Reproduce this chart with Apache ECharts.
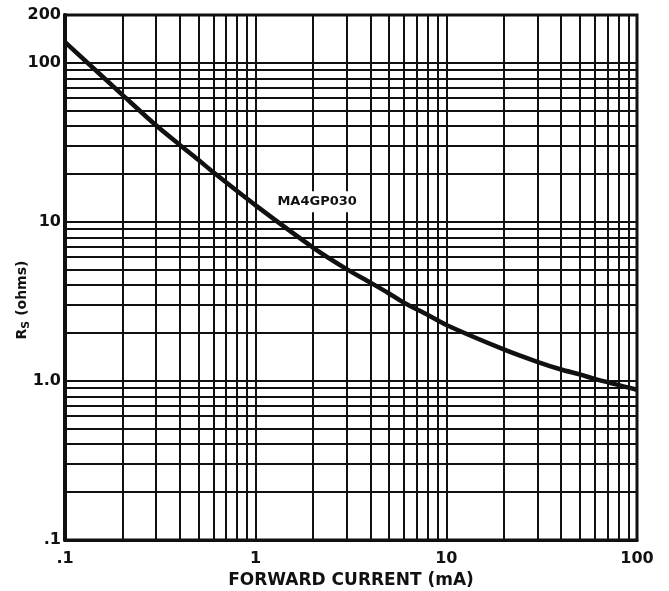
<!DOCTYPE html>
<html>
<head>
<meta charset="utf-8">
<script src="https://cdn.jsdelivr.net/npm/echarts@6/dist/echarts.min.js"></script>
<style>
html,body{margin:0;padding:0;background:#fff;}
#chart{width:669px;height:591px;}
</style>
</head>
<body>
<div id="chart"></div>
<script>
// ---- data ----
var currentMA = [0.1, 0.2, 0.3, 0.4, 0.5, 0.6, 1, 2, 3, 4, 5, 6, 8, 10, 20, 30, 40, 50, 60, 100];
var rsOhms    = [135, 63, 40.5, 30.5, 24.6, 20.5, 12.7, 6.9, 5.05, 4.15, 3.55, 3.1, 2.6, 2.25, 1.58, 1.32, 1.18, 1.1, 1.03, 0.88];
var seriesName = 'MA4GP030';
var xTickLabels = {'0.1': '.1', '1': '1', '10': '10', '100': '100'};
var yTickLabels = {'0.1': '.1', '1': '1.0', '10': '10', '100': '100', '200': '200'};
var xMinorGrid = [0.2,0.3,0.4,0.5,0.6,0.7,0.8,0.9, 2,3,4,5,6,7,8,9, 20,30,40,50,60,70,80,90];
var yMinorGrid = [0.2,0.3,0.4,0.5,0.6,0.7,0.8,0.9, 2,3,4,5,6,7,8,9, 20,30,40,50,60,70,80,90];
var xTitle = 'FORWARD CURRENT (mA)';
var labelPos = [2.1, 13.4];

var FONT = 'DejaVu Sans';
var INK = '#111';

function fmt(map) {
  return function (v) {
    var r = parseFloat(Number(v).toPrecision(6));
    return map.hasOwnProperty(String(r)) ? map[String(r)] : '';
  };
}

var gridLines = [];
xMinorGrid.forEach(function (v) { gridLines.push({ xAxis: v }); });
yMinorGrid.forEach(function (v) { gridLines.push({ yAxis: v }); });

var chart = echarts.init(document.getElementById('chart'), null, { renderer: 'canvas' });
chart.setOption({
  animation: false,
  backgroundColor: '#fff',
  grid: {
    left: 65, right: 32, top: 15, bottom: 51,
    outerBoundsMode: 'none', containLabel: false,
    show: true, borderColor: INK, borderWidth: 3, backgroundColor: 'transparent'
  },
  xAxis: {
    type: 'log', logBase: 10, min: 0.1, max: 100,
    axisLine: { show: true, lineStyle: { color: INK, width: 3 } },
    axisTick: { show: false },
    splitLine: { show: true, lineStyle: { color: INK, width: 2 } },
    axisLabel: {
      formatter: fmt(xTickLabels), color: INK, fontFamily: FONT, fontWeight: 'bold',
      fontSize: 16, margin: 11, showMinLabel: true, showMaxLabel: true, hideOverlap: false
    },
    name: xTitle, nameLocation: 'middle', nameGap: 31,
    nameTextStyle: { color: INK, fontFamily: FONT, fontWeight: 'bold', fontSize: 17 }
  },
  yAxis: {
    type: 'log', logBase: 10, min: 0.1, max: 200,
    axisLine: { show: true, lineStyle: { color: INK, width: 4 } },
    axisTick: { show: false },
    splitLine: { show: true, lineStyle: { color: INK, width: 2 } },
    axisLabel: {
      formatter: fmt(yTickLabels), color: INK, fontFamily: FONT, fontWeight: 'bold',
      fontSize: 16, margin: 4, showMinLabel: true, showMaxLabel: true, hideOverlap: false
    }
  },
  graphic: [{
    type: 'text', x: 22, y: 300, rotation: Math.PI / 2,
    style: {
      text: '{a|R}{b|S}{a| (ohms)}',
      align: 'center', verticalAlign: 'middle',
      fill: INK,
      rich: {
        a: { fontFamily: FONT, fontWeight: 'bold', fontSize: 14, lineHeight: 20, fill: INK, verticalAlign: 'middle' },
        b: { fontFamily: FONT, fontWeight: 'bold', fontSize: 11, lineHeight: 20, fill: INK, verticalAlign: 'bottom', padding: [8, 0, 0, 0] }
      }
    }
  }],
  series: [{
    type: 'line',
    name: 'grid',
    data: [],
    silent: true,
    markLine: {
      silent: true, symbol: ['none', 'none'], animation: false,
      label: { show: false },
      lineStyle: { color: INK, width: 2, type: 'solid' },
      emphasis: { disabled: true },
      data: gridLines
    }
  }, {
    type: 'line',
    name: seriesName,
    data: currentMA.map(function (x, i) { return [x, rsOhms[i]]; }),
    smooth: 0.3,
    showSymbol: false,
    lineStyle: { color: INK, width: 4.5 },
    z: 5,
    markPoint: {
      symbol: 'circle', symbolSize: 0,
      label: {
        show: true, formatter: seriesName, color: INK, fontFamily: FONT,
        fontWeight: 'bold', fontSize: 13, position: 'inside',
        backgroundColor: '#fff', padding: [4, 3]
      },
      data: [{ coord: labelPos }]
    }
  }]
});
</script>
</body>
</html>
